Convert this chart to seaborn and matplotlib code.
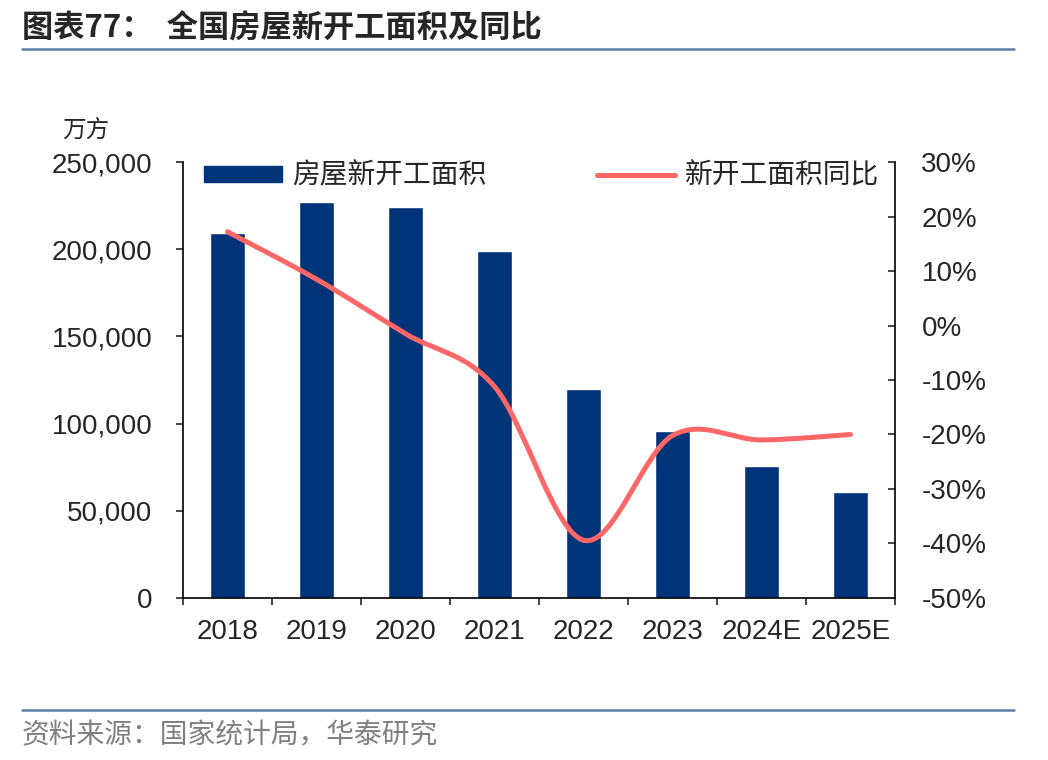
import numpy as np
import pandas as pd
import seaborn as sns
import matplotlib.pyplot as plt
from matplotlib.path import Path
from matplotlib.patches import PathPatch
from matplotlib.lines import Line2D
from matplotlib.ticker import FuncFormatter, MultipleLocator, FixedLocator

years = ['2018', '2019', '2020', '2021', '2022', '2023', '2024E', '2025E']
area = [209300, 226800, 224400, 198800, 120000, 95800, 75500, 60500]
yoy = [17.2, 8.5, -1.5, -11.2, -39.4, -20.2, -21.0, -20.0]

bar_color = '#003478'
line_color = '#FF6666'

sns.set_style('white')
plt.rcParams['font.family'] = ['Liberation Sans', 'Noto Sans CJK SC', 'DejaVu Sans']
cjk = ['Noto Sans CJK SC', 'DejaVu Sans']

fig = plt.figure(figsize=(10.48, 7.6), dpi=100)
ax = fig.add_axes([0.1746, 0.2132, 0.6794, 0.5736])

df = pd.DataFrame({'year': years, 'area': area, 'yoy': yoy})
sns.barplot(data=df, x='year', y='area', color=bar_color, width=0.4,
            saturation=1, ax=ax, zorder=2)
ax.set_xlim(-0.5, len(years) - 0.5)
ax.set_ylim(0, 250000)
ax.yaxis.set_major_locator(MultipleLocator(50000))
ax.yaxis.set_major_formatter(FuncFormatter(lambda v, p: f'{int(v):,}'))
ax.set_xlabel('')
ax.set_ylabel('')

for s in ['top', 'right']:
    ax.spines[s].set_visible(False)
for s in ['left', 'bottom']:
    ax.spines[s].set_color('black')
    ax.spines[s].set_linewidth(1.2)

ax.tick_params(axis='y', direction='out', length=5, width=1.2, pad=17,
               labelsize=20, left=True)
ax.xaxis.set_minor_locator(FixedLocator(np.arange(-0.5, len(years), 1.0)))
ax.tick_params(axis='x', which='major', length=0, pad=15.5, labelsize=20)
ax.tick_params(axis='x', which='minor', direction='out', length=5, width=1.2,
               bottom=True)

# smoothed yoy line on the right axis
ax2 = ax.twinx()
ax2.set_ylim(-50, 30)
ax2.yaxis.set_major_locator(MultipleLocator(10))
ax2.yaxis.set_major_formatter(FuncFormatter(lambda v, p: f'{int(round(v))}%'))
for s in ['top', 'left', 'bottom']:
    ax2.spines[s].set_visible(False)
ax2.spines['right'].set_color('black')
ax2.spines['right'].set_linewidth(1.2)
ax2.tick_params(axis='y', direction='in', length=5, width=1.2, pad=19,
                labelsize=20)

pts = np.column_stack([np.arange(len(yoy)), yoy]).astype(float)
ext = np.vstack([pts[0], pts, pts[-1]])
verts = [pts[0]]
codes = [Path.MOVETO]
for i in range(len(pts) - 1):
    p0, p1, p2, p3 = ext[i], ext[i + 1], ext[i + 2], ext[i + 3]
    c1 = p1 + (p2 - p0) / 6
    c2 = p2 - (p3 - p1) / 6
    verts += [c1, c2, p2]
    codes += [Path.CURVE4] * 3
ax2.add_patch(PathPatch(Path(verts, codes), facecolor='none',
                        edgecolor=line_color, lw=3.6, capstyle='round',
                        zorder=3))

handles = [plt.Rectangle((0, 0), 1, 1, color=bar_color),
           Line2D([0], [0], color=line_color, lw=3.6, solid_capstyle='round')]
ax.legend(handles, ['房屋新开工面积', '新开工面积同比'], loc='upper left',
          bbox_to_anchor=(0.0295, 1.003), ncol=2, frameon=False, borderpad=0,
          borderaxespad=0, handlelength=2.8, handleheight=0.55,
          columnspacing=4.0, handletextpad=0.36,
          prop={'family': cjk, 'size': 20})

fig.text(0.059, 0.829, '万方', fontsize=17, family=cjk, va='center')

fig.text(0.021, 0.963, '图表77：  全国房屋新开工面积及同比', fontsize=22.5,
         fontweight='bold', family=cjk, va='center')
fig.add_artist(Line2D([0.021, 0.968], [0.936, 0.936], color='#5B7FA6', lw=1.8))
fig.add_artist(Line2D([0.021, 0.968], [0.066, 0.066], color='#5B7FA6', lw=1.8))
fig.text(0.021, 0.033, '资料来源：国家统计局，华泰研究', fontsize=20,
         color='#808080', family=cjk, va='center')

fig.savefig('out.png', dpi=100)
